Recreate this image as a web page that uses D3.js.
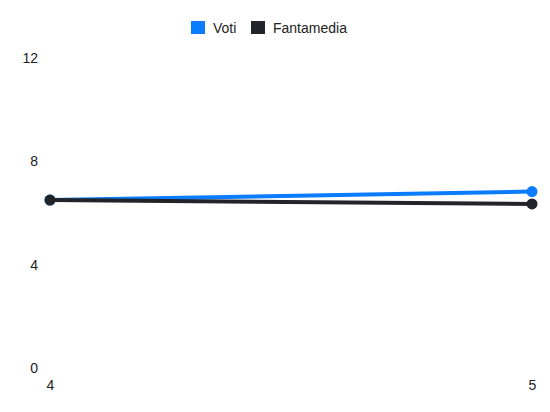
<!DOCTYPE html>
<html>
<head>
<meta charset="utf-8">
<script src="https://cdn.jsdelivr.net/npm/d3@7"></script>
<style>
  body { margin: 0; background: #fff; }
  svg text { font-family: "Liberation Sans", Arial, sans-serif; }
</style>
</head>
<body>
<div class="chart"></div>
<script>
// data
var giornate = [4, 5];
var voti = [6.5, 6.83];
var fantamedia = [6.5, 6.35];
var yTicks = [0, 4, 8, 12];

var seriesNames = ["Voti", "Fantamedia"];
var seriesColors = ["#0a7cff", "#212529"];

var svgWidth = 550;
var svgHeight = 412;

var margin = { top: 58, right: 18, bottom: 44, left: 50 };
var width = svgWidth - margin.left - margin.right;
var height = svgHeight - margin.top - margin.bottom;

var svg = d3.select(".chart")
  .append("svg")
  .attr("width", svgWidth)
  .attr("height", svgHeight);

var chartGroup = svg.append("g")
  .attr("transform", `translate(${margin.left}, ${margin.top})`);

var xScale = d3.scaleLinear()
  .domain(d3.extent(giornate))
  .range([0, width]);

var yScale = d3.scaleLinear()
  .domain([0, 12])
  .range([height, 0]);

// y axis labels
var yAxis = d3.axisLeft(yScale).tickValues(yTicks).tickSize(0).tickPadding(12);
var yG = chartGroup.append("g").call(yAxis);
yG.select(".domain").remove();
yG.attr("font-size", 14).attr("font-family", null);
yG.selectAll("text").attr("fill", "#222");

// x axis labels
var xAxis = d3.axisBottom(xScale).tickValues(giornate).tickSize(0).tickPadding(12)
  .tickFormat(d3.format("d"));
var xG = chartGroup.append("g")
  .attr("transform", `translate(0, ${height})`)
  .call(xAxis);
xG.select(".domain").remove();
xG.attr("font-size", 14).attr("font-family", null);
xG.selectAll("text").attr("fill", "#222");

var series = [voti, fantamedia];

var line = d3.line()
  .x((d, i) => xScale(giornate[i]))
  .y(d => yScale(d));

series.forEach(function(vals, s) {
  chartGroup.append("path")
    .datum(vals)
    .attr("d", line)
    .attr("fill", "none")
    .attr("stroke", seriesColors[s])
    .attr("stroke-width", 4);

  chartGroup.selectAll(".pt" + s)
    .data(vals)
    .enter()
    .append("circle")
    .attr("class", "pt" + s)
    .attr("cx", (d, i) => xScale(giornate[i]))
    .attr("cy", d => yScale(d))
    .attr("r", 5.5)
    .attr("fill", seriesColors[s]);
});

// legend
var legend = svg.append("g").attr("transform", "translate(191, 21)");
var offsets = [0, 60];
seriesNames.forEach(function(name, i) {
  var g = legend.append("g").attr("transform", `translate(${offsets[i]}, 0)`);
  g.append("rect")
    .attr("width", 14)
    .attr("height", 13)
    .attr("fill", seriesColors[i]);
  g.append("text")
    .attr("x", 22)
    .attr("y", 12)
    .attr("font-size", 14)
    .attr("fill", "#222")
    .text(name);
});
</script>
</body>
</html>
